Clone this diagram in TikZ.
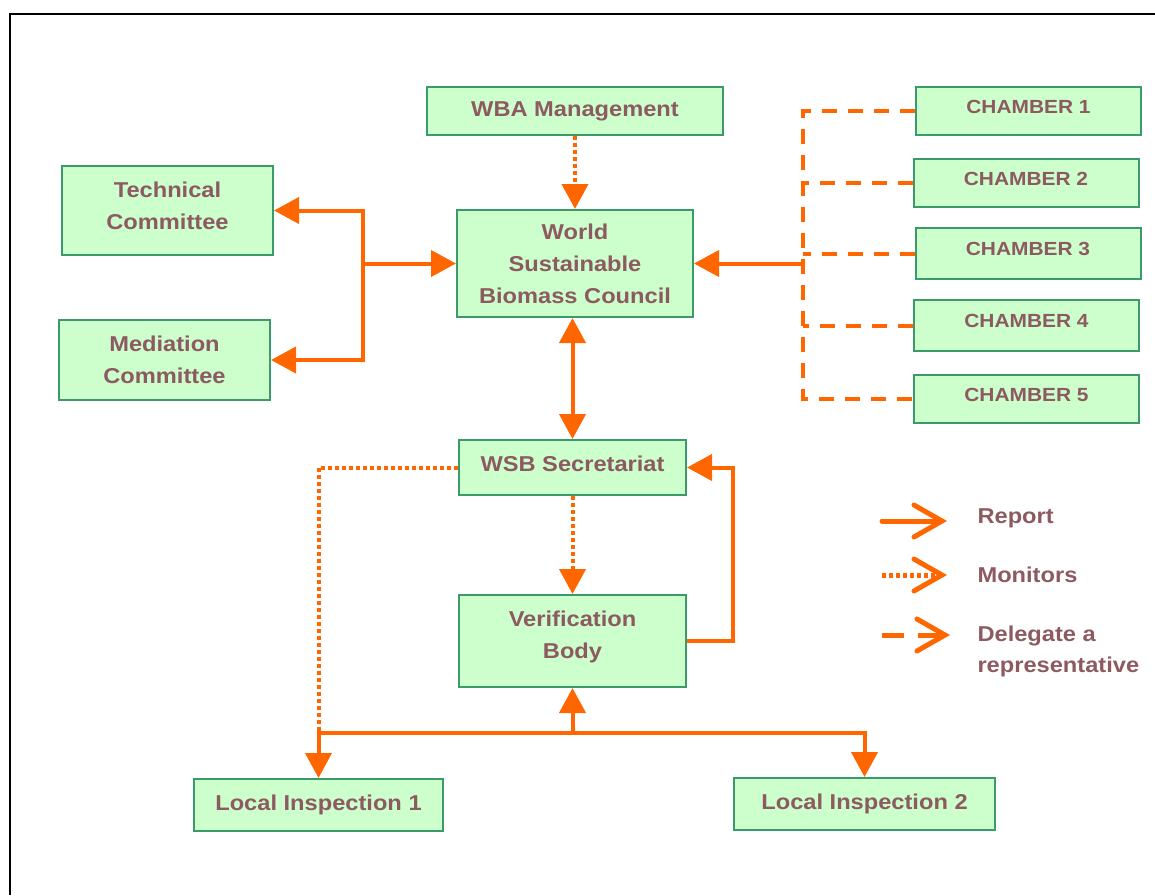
\documentclass[tikz,border=0pt]{standalone}
\usepackage{fontspec}
\setmainfont{Liberation Sans}[FakeStretch=1.1]
\usepackage{tikz}
\usetikzlibrary{shapes,arrows.meta}
\definecolor{boxfill}{HTML}{CCFFCC}
\definecolor{boxline}{HTML}{3A9A6A}
\definecolor{linkc}{HTML}{FF6600}
\definecolor{txtc}{HTML}{8C5A60}

\begin{document}
\begin{tikzpicture}[x=1pt, y=-1pt]

\tikzstyle{box} = [rectangle, draw=boxline, fill=boxfill, line width=2pt, inner sep=0pt, text=txtc, align=center, font=\fontsize{21.5}{32}\selectfont\bfseries]
\tikzstyle{chamber} = [box, minimum width=225pt, text depth=9pt, font=\fontsize{19}{24}\selectfont\bfseries]
\tikzstyle{report} = [line width=4pt, draw=linkc, -{Triangle[length=25pt, width=26pt]}]
\tikzstyle{monitor} = [line width=4pt, draw=linkc, dash pattern=on 4pt off 3pt]
\tikzstyle{delegate} = [line width=4pt, draw=linkc, dash pattern=on 15pt off 11pt]
\tikzstyle{legendtip} = [line width=5pt, draw=linkc, line cap=round, -{Straight Barb[length=28pt, width=32pt, line cap=round]}]
\tikzstyle{legendtxt} = [anchor=west, text=txtc, align=left, font=\fontsize{21.5}{31}\selectfont\bfseries]

\useasboundingbox (0,0) rectangle (1155,895);
\draw[line width=2pt] (1155,14) -- (10,14) -- (10,895);

\node[box, minimum width=296pt, minimum height=48pt] (wba) at (575,111) {WBA Management};
\node[box, minimum width=236pt, minimum height=107pt] (council) at (575,263.5) {World\\Sustainable\\Biomass Council};
\node[box, minimum width=211pt, minimum height=89pt, text depth=10pt] (tech) at (167.5,210.5) {Technical\\Committee};
\node[box, minimum width=211pt, minimum height=80pt] (med) at (164.5,360) {Mediation\\Committee};

\node[chamber, minimum height=48pt] (ch1) at (1028.5,111) {CHAMBER 1};
\node[chamber, minimum height=48pt] (ch2) at (1026,183) {CHAMBER 2};
\node[chamber, minimum height=51pt] (ch3) at (1028,253.5) {CHAMBER 3};
\node[chamber, minimum height=51pt] (ch4) at (1026.5,325.5) {CHAMBER 4};
\node[chamber, minimum height=48pt] (ch5) at (1026.5,399) {CHAMBER 5};

\node[box, minimum width=227pt, minimum height=55pt, text depth=8pt] (sec) at (572.5,467.5) {WSB Secretariat};
\node[box, minimum width=227pt, minimum height=92pt, text depth=12.5pt] (ver) at (572.5,641) {Verification\\Body};
\node[box, minimum width=249pt, minimum height=52pt] (li1) at (318.5,805) {Local Inspection 1};
\node[box, minimum width=261pt, minimum height=52pt] (li2) at (864.5,804) {Local Inspection 2};

\coordinate (lbus) at (363,263.5);
\coordinate (cbus) at (803,263.5);
\coordinate (cbot) at (803,399);
\coordinate (vr) at (733,641);
\coordinate (jm) at (572.5,733);
\coordinate (jl) at (318.5,733);

\draw[monitor, -{Triangle[length=25pt, width=26pt]}] (wba.south) -- (council.north);

\draw[report] (lbus) -- (council.west);
\draw[report] (lbus) |- (tech.east);
\draw[report] (lbus) |- (med.east);

\draw[delegate] (ch1.west) -| (cbot) -- (ch5.west);
\foreach \i in {2,3,4}
  \draw[delegate] (ch\i.west) -- (ch\i.west -| cbot);
\draw[report] (cbus) -- (council.east);

\draw[report, {Triangle[length=25pt, width=26pt]}-{Triangle[length=25pt, width=26pt]}] (sec.north |- council.south) -- (sec.north);

\draw[monitor] (sec.west) -| (jl);
\draw[monitor, -{Triangle[length=25pt, width=26pt]}] (sec.south) -- (ver.north);
\draw[report] (ver.east) -- (vr) |- (sec.east);

\draw[report] (jm) -- (ver.south);
\draw[report] (jm) -| (li1.north);
\draw[report] (jm) -| (li2.north);

\coordinate (rep1) at (882,521);
\coordinate (rep2) at (947,521);
\coordinate (mon1) at (882,575);
\coordinate (mon2) at (947,575);
\coordinate (del1) at (882,635);
\coordinate (del2) at (950,635);
\draw[legendtip] (rep1) -- (rep2);
\draw[legendtip, line cap=butt, dash pattern=on 4pt off 3pt] (mon1) -- (mon2);
\draw[legendtip, line cap=butt, dash pattern=on 22pt off 14pt] (del1) -- (del2);
\node[legendtxt] (reptxt) at (974,518) {Report};
\node[legendtxt] (montxt) at (974,575) {Monitors};
\node[legendtxt, anchor=north west] (deltxt) at (974,622) {Delegate a\\representative};

\end{tikzpicture}
\end{document}
